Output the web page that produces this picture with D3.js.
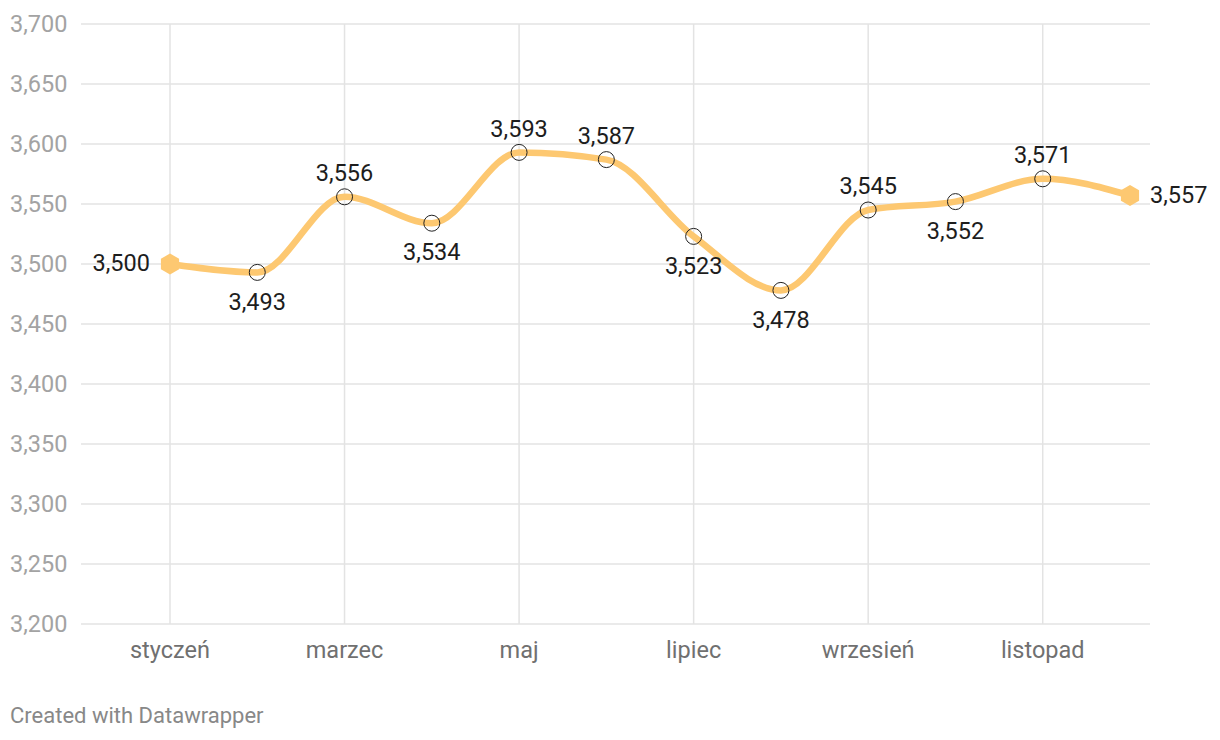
<!DOCTYPE html>
<html>
<head>
<meta charset="utf-8">
<script src="https://cdn.jsdelivr.net/npm/d3@7"></script>
<style>
  body { margin: 0; background: #fff; font-family: Roboto, "Noto Sans", sans-serif; }
  svg text { font-family: Roboto, "Noto Sans", sans-serif; }
</style>
</head>
<body>
<svg width="1220" height="740"></svg>
<script>
// chart data
const months = ['styczeń', 'luty', 'marzec', 'kwiecień', 'maj', 'czerwiec',
  'lipiec', 'sierpień', 'wrzesień', 'październik', 'listopad', 'grudzień'];
const values = [3500, 3493, 3556, 3534, 3593, 3587, 3523, 3478, 3545, 3552, 3571, 3557];
const yTicks = [3200, 3250, 3300, 3350, 3400, 3450, 3500, 3550, 3600, 3650, 3700];
const xTickMonths = ['styczeń', 'marzec', 'maj', 'lipiec', 'wrzesień', 'listopad'];
// where each value label sits relative to its point
const labelPos = ['left', 'below', 'above', 'below', 'above', 'above',
  'below', 'below', 'above', 'below', 'above', 'right'];

const svg = d3.select('svg');

const x = d3.scalePoint()
    .domain(months)
    .range([170, 1130]);

const y = d3.scaleLinear()
    .domain([3200, 3700])
    .range([624, 24]);

const fmt = d3.format(',');

// horizontal grid + y labels
const yg = svg.append('g');
yg.selectAll('line')
  .data(yTicks)
  .enter().append('line')
    .attr('x1', 81).attr('x2', 1150)
    .attr('y1', d => y(d)).attr('y2', d => y(d))
    .attr('stroke', '#e3e3e3')
    .attr('stroke-width', 1.5);
yg.selectAll('text')
  .data(yTicks)
  .enter().append('text')
    .attr('x', 10)
    .attr('y', d => y(d))
    .attr('dy', '0.35em')
    .attr('fill', '#a3a3a3')
    .attr('font-size', 23.5)
    .text(d => fmt(d));

// vertical grid + x labels
const xg = svg.append('g');
xg.selectAll('line')
  .data(xTickMonths)
  .enter().append('line')
    .attr('x1', d => x(d)).attr('x2', d => x(d))
    .attr('y1', 24).attr('y2', 624)
    .attr('stroke', '#e3e3e3')
    .attr('stroke-width', 1.5);
xg.selectAll('text')
  .data(xTickMonths)
  .enter().append('text')
    .attr('x', d => x(d))
    .attr('y', 658)
    .attr('text-anchor', 'middle')
    .attr('fill', '#707070')
    .attr('font-size', 23.5)
    .text(d => d);

const pts = months.map((m, i) => ({ m, v: values[i], pos: labelPos[i] }));

const line = d3.line()
    .x(d => x(d.m))
    .y(d => y(d.v))
    .curve(d3.curveMonotoneX);

svg.append('path')
    .datum(pts)
    .attr('d', line)
    .attr('fill', 'none')
    .attr('stroke', '#fdc871')
    .attr('stroke-width', 6.5)
    .attr('stroke-linecap', 'round');

// end markers (pointy-top hexagons)
const hex = d3.range(6).map(k => {
  const a = Math.PI / 6 + k * Math.PI / 3;
  return [10.5 * Math.cos(a), 10.5 * Math.sin(a)];
});
svg.selectAll('.end')
  .data([pts[0], pts[pts.length - 1]])
  .enter().append('polygon')
    .attr('class', 'end')
    .attr('points', hex.map(p => p.join(',')).join(' '))
    .attr('transform', d => `translate(${x(d.m)},${y(d.v)})`)
    .attr('fill', '#fdc871');

// inner markers
svg.selectAll('.pt')
  .data(pts.slice(1, -1))
  .enter().append('circle')
    .attr('class', 'pt')
    .attr('cx', d => x(d.m))
    .attr('cy', d => y(d.v))
    .attr('r', 8)
    .attr('fill', 'none')
    .attr('stroke', '#222')
    .attr('stroke-width', 1);

// value labels
svg.selectAll('.lbl')
  .data(pts)
  .enter().append('text')
    .attr('class', 'lbl')
    .attr('x', d => d.pos === 'left' ? x(d.m) - 20 : d.pos === 'right' ? x(d.m) + 20 : x(d.m))
    .attr('y', d => d.pos === 'above' ? y(d.v) - 24 : d.pos === 'below' ? y(d.v) + 29 : y(d.v) - 1)
    .attr('dy', '0.35em')
    .attr('text-anchor', d => d.pos === 'left' ? 'end' : d.pos === 'right' ? 'start' : 'middle')
    .attr('fill', '#1d1d1d')
    .attr('font-size', 23.5)
    .text(d => fmt(d.v));

svg.append('text')
    .attr('x', 10)
    .attr('y', 723)
    .attr('fill', '#888')
    .attr('font-size', 22)
    .text('Created with Datawrapper');
</script>
</body>
</html>
